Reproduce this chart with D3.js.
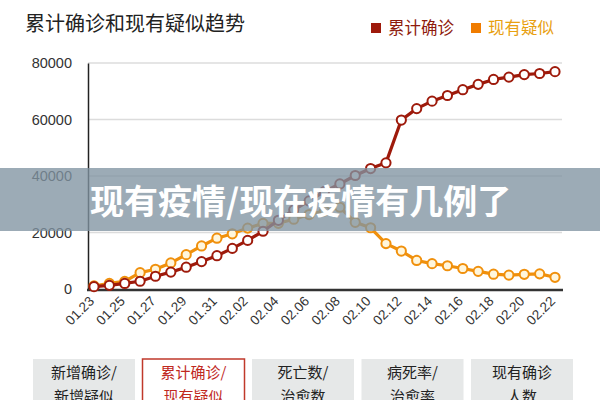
<!DOCTYPE html>
<html>
<head>
<meta charset="utf-8">
<script src="https://cdn.jsdelivr.net/npm/d3@7"></script>
<style>
  body { margin: 0; background: #fff; }
  svg { display: block; }
</style>
</head>
<body>
<script>
const dates = [
  "01.23", "01.24", "01.25", "01.26", "01.27", "01.28", "01.29", "01.30",
  "01.31", "02.01", "02.02", "02.03", "02.04", "02.05", "02.06", "02.07",
  "02.08", "02.09", "02.10", "02.11", "02.12", "02.13", "02.14", "02.15",
  "02.16", "02.17", "02.18", "02.19", "02.20", "02.21", "02.22"
];
const confirmed = [
  830, 1287, 1975, 2744, 4515, 5974, 7711, 9692, 11791, 14380, 17205,
  20438, 24324, 28018, 31161, 34546, 37198, 40171, 42638, 44653, 59804,
  63851, 66492, 68500, 70548, 72436, 74185, 75002, 75891, 76288, 76936
];
const suspected = [
  1072, 1965, 2684, 5794, 6973, 9239, 12167, 15238, 17988, 19544, 21558,
  23214, 23260, 24702, 26359, 27657, 28942, 23589, 21675, 16067, 13435,
  10109, 8969, 8228, 7264, 6242, 5248, 4922, 5206, 5365, 4148
];
const yTicks = [0, 20000, 40000, 60000, 80000];
const tabs = [
  ["新增确诊/", "新增疑似"],
  ["累计确诊/", "现有疑似"],
  ["死亡数/", "治愈数"],
  ["病死率/", "治愈率"],
  ["现有确诊", "人数"]
];
const activeTab = 1;

const W = 600, H = 400;
const RED = "#9e1a0b", ORANGE = "#f0900c";
const cjk = "'Noto Sans CJK SC', sans-serif";
const num = "'Liberation Sans', Arial, sans-serif";

const svg = d3.select("body").append("svg")
  .attr("width", W)
  .attr("height", H);

// title + legend
svg.append("text")
  .attr("x", 25).attr("y", 31)
  .style("font-family", cjk).style("font-size", "20px")
  .style("fill", "#222")
  .text("累计确诊和现有疑似趋势");

const legend = [
  { label: "累计确诊", box: RED, text: "#8e1a0c", x: 371 },
  { label: "现有疑似", box: "#f07c00", text: "#e8a010", x: 471 }
];
legend.forEach(function(d) {
  svg.append("rect")
    .attr("x", d.x).attr("y", 23).attr("width", 10).attr("height", 10)
    .attr("fill", d.box);
  svg.append("text")
    .attr("x", d.x + 17).attr("y", 34)
    .style("font-family", cjk).style("font-size", "16.5px")
    .style("fill", d.text)
    .text(d.label);
});

// scales
const x = d3.scalePoint().domain(dates).range([94, 555]);
const y = d3.scaleLinear().domain([0, 80000]).range([289, 63]);

// grid
svg.append("g")
  .selectAll("line")
  .data(yTicks.slice(1))
  .enter()
  .append("line")
  .attr("x1", 88).attr("x2", 562)
  .attr("y1", d => y(d)).attr("y2", d => y(d))
  .attr("stroke", "#dcdcdc").attr("stroke-width", 1.5);

// y axis
const yAxis = svg.append("g")
  .attr("transform", "translate(88,0)")
  .call(d3.axisLeft(y).tickValues(yTicks).tickSize(0).tickPadding(16).tickFormat(d3.format("d")));
yAxis.select(".domain").attr("stroke", "#222").attr("stroke-width", 1.5);
yAxis.selectAll("text")
  .style("font-family", num).style("font-size", "14.5px").style("fill", "#333");

// x axis
svg.append("line")
  .attr("x1", 87).attr("x2", 563)
  .attr("y1", 290).attr("y2", 290)
  .attr("stroke", "#333").attr("stroke-width", 2.5);

svg.append("g")
  .selectAll("text")
  .data(dates.filter((d, i) => i % 2 === 0))
  .enter()
  .append("text")
  .attr("text-anchor", "end")
  .attr("transform", d => "translate(" + (x(d) + 1) + ",302)rotate(-45)")
  .style("font-family", num).style("font-size", "13.5px").style("fill", "#333")
  .text(d => d);

// series
const series = [
  { values: suspected, color: ORANGE, fill: "#fff6dc" },
  { values: confirmed, color: RED, fill: "#ffffff" }
];
const line = d3.line()
  .x((d, i) => x(dates[i]))
  .y(d => y(d));

series.forEach(function(s) {
  svg.append("path")
    .datum(s.values)
    .attr("d", line)
    .attr("fill", "none")
    .attr("stroke", s.color)
    .attr("stroke-width", 3.2)
    .attr("stroke-linejoin", "round");
  svg.append("g")
    .selectAll("circle")
    .data(s.values)
    .enter()
    .append("circle")
    .attr("cx", (d, i) => x(dates[i]))
    .attr("cy", d => y(d))
    .attr("r", 4.6)
    .attr("fill", s.fill)
    .attr("stroke", s.color)
    .attr("stroke-width", 2);
});

// overlay banner
svg.append("rect")
  .attr("x", 0).attr("y", 168).attr("width", W).attr("height", 63)
  .attr("fill", "rgb(128,148,162)").attr("fill-opacity", 0.78);
svg.append("text")
  .attr("x", 90).attr("y", 214)
  .style("font-family", cjk).style("font-size", "34px").style("font-weight", "bold")
  .style("fill", "#fff")
  .text("现有疫情/现在疫情有几例了");

// tabs (cut off by the bottom edge, as in the screenshot)
const tab = svg.append("g")
  .selectAll("g")
  .data(tabs)
  .enter()
  .append("g")
  .attr("transform", (d, i) => "translate(" + (33 + i * 109.5) + ",359)");

tab.append("rect")
  .attr("width", 102).attr("height", 50)
  .attr("fill", (d, i) => i === activeTab ? "#fff" : "#e6e8e8")
  .attr("stroke", (d, i) => i === activeTab ? "#c0392b" : "none")
  .attr("stroke-width", 1.5);

tab.each(function(d, i) {
  const g = d3.select(this);
  d.forEach(function(t, k) {
    g.append("text")
      .attr("x", 51).attr("y", 19 + k * 24)
      .attr("text-anchor", "middle")
      .style("font-family", cjk).style("font-size", "15px")
      .style("fill", i === activeTab ? "#c0281e" : "#222")
      .text(t);
  });
});
</script>
</body>
</html>
